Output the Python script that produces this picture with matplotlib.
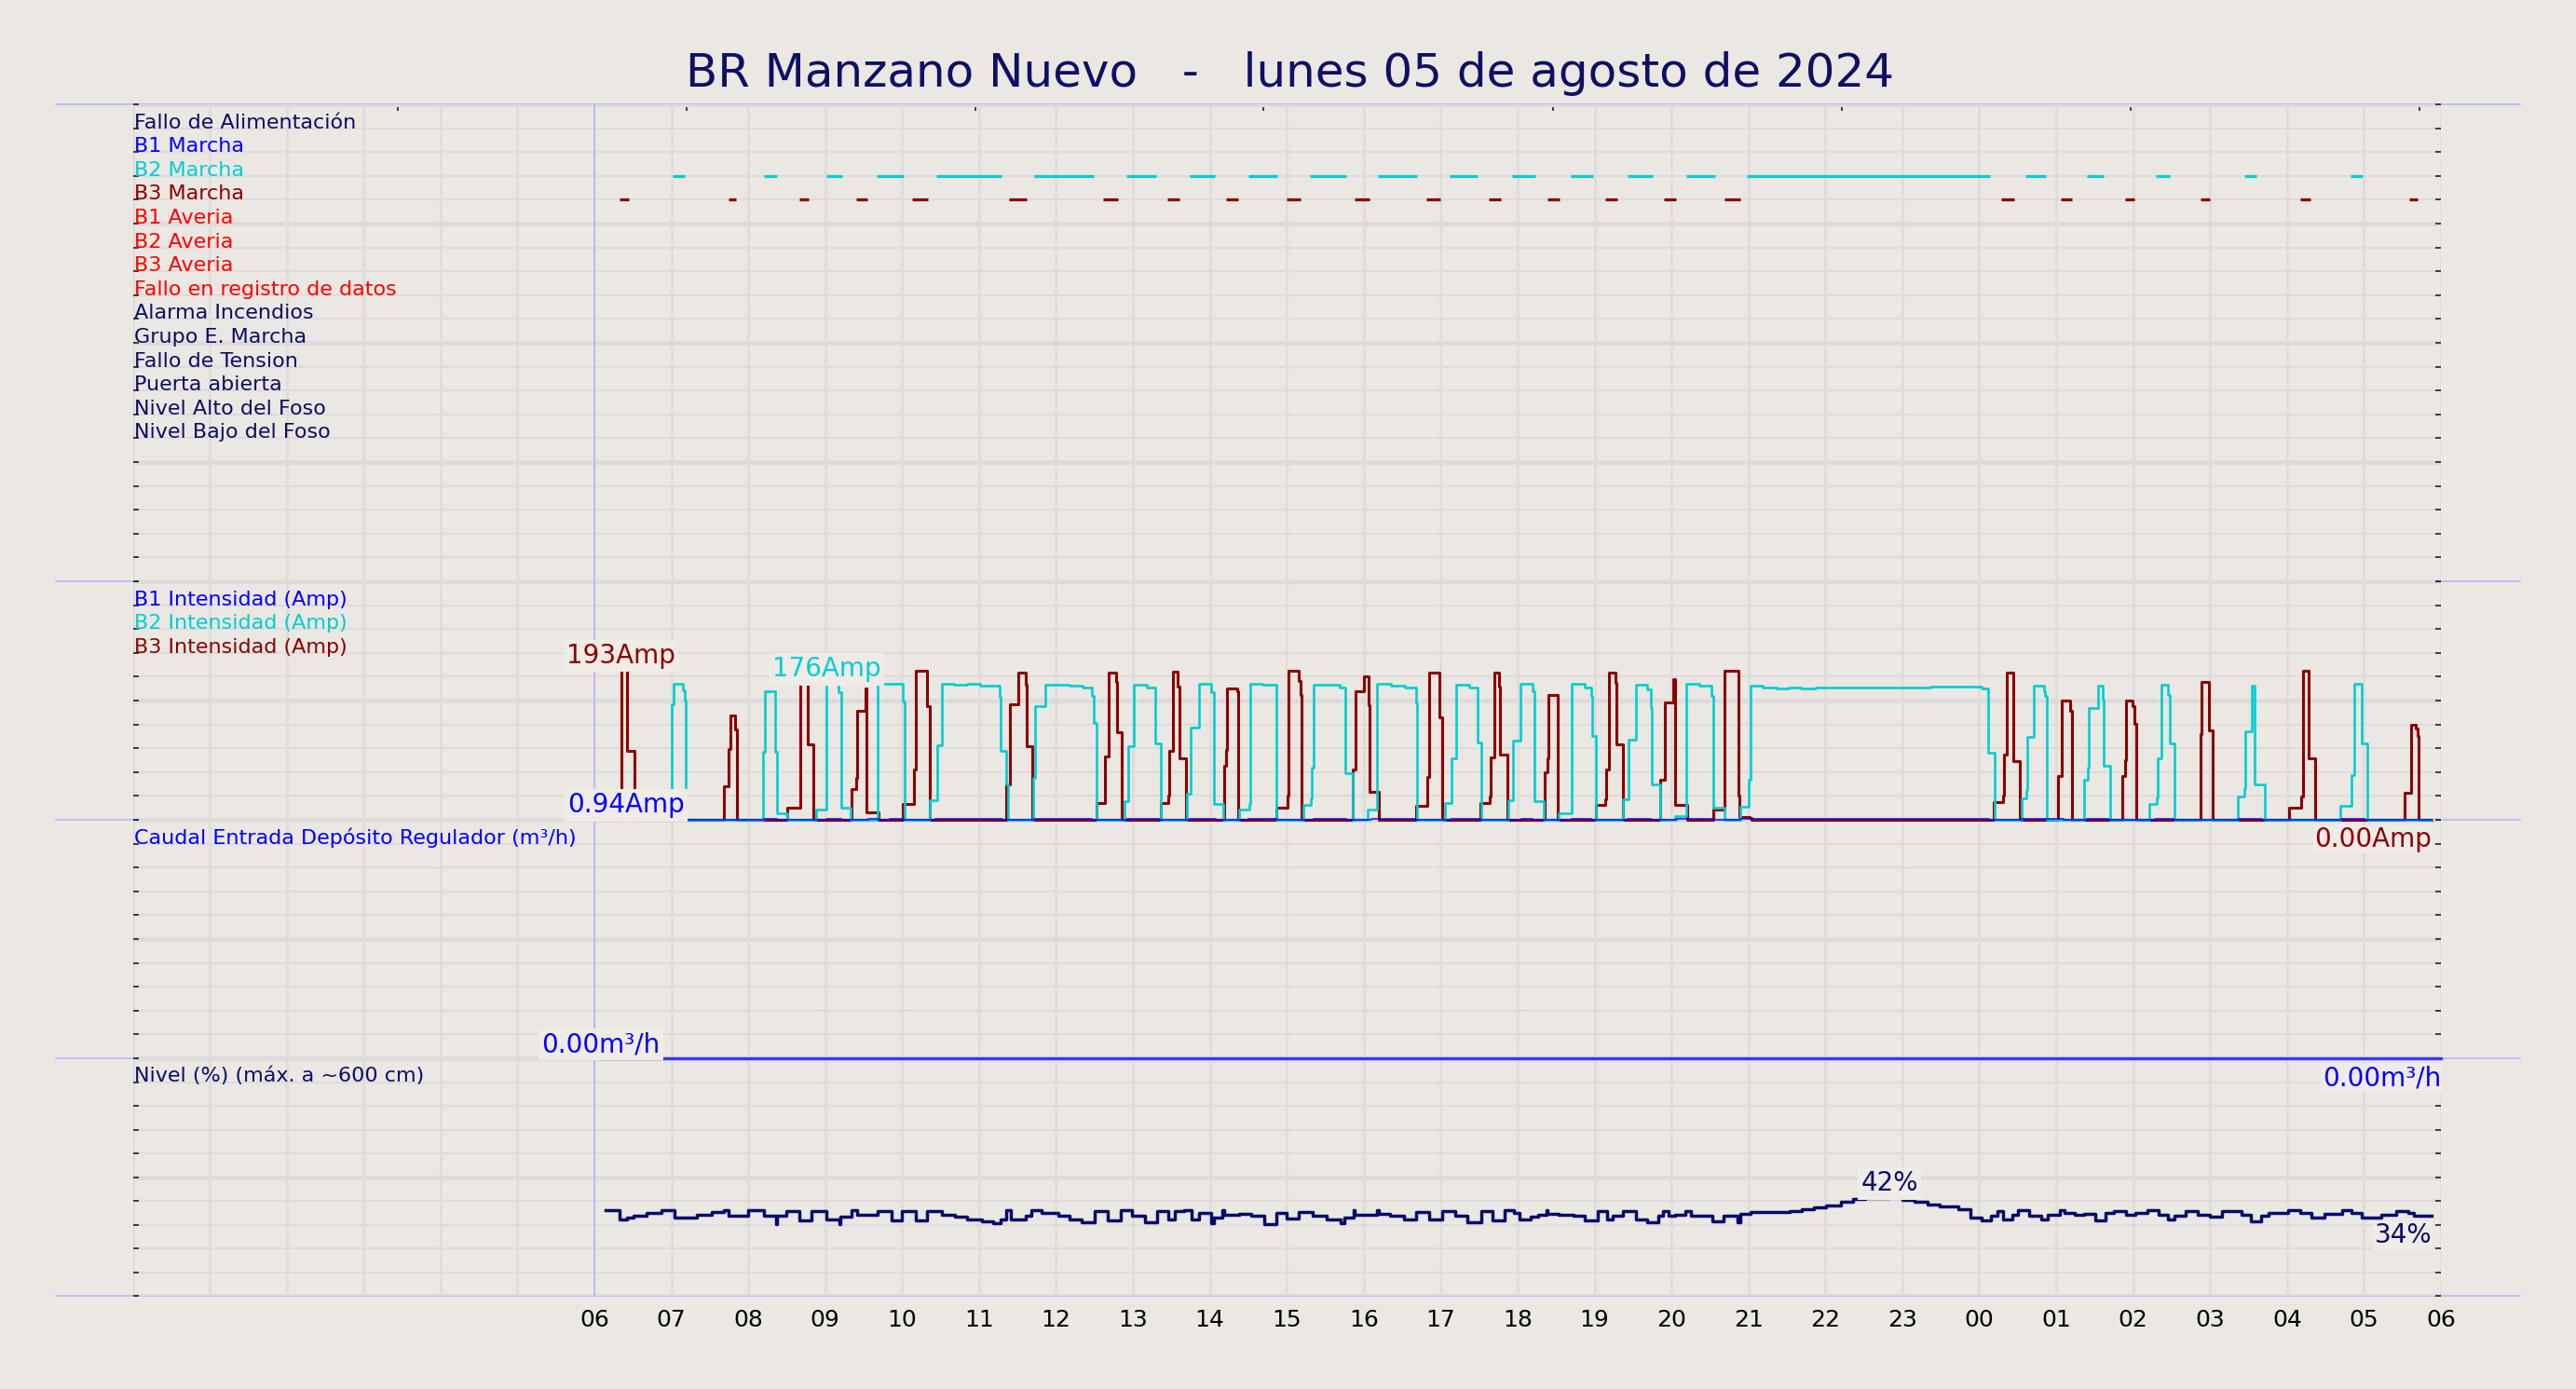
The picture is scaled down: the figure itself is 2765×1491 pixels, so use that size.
import numpy as np
import matplotlib
matplotlib.use("Agg")
import matplotlib.pyplot as plt
from matplotlib.lines import Line2D

# ---------------- data ----------------
title = "BR Manzano Nuevo   -   lunes 05 de agosto de 2024"

signal_labels = ["Fallo de Alimentación", "B1 Marcha", "B2 Marcha", "B3 Marcha",
                 "B1 Averia", "B2 Averia", "B3 Averia", "Fallo en registro de datos",
                 "Alarma Incendios", "Grupo E. Marcha", "Fallo de Tension",
                 "Puerta abierta", "Nivel Alto del Foso", "Nivel Bajo del Foso"]
signal_colors = ["#0d0d66", "#0000ff", "#00ced1", "#8b0000", "#ff0000", "#ff0000",
                 "#ff0000", "#ff0000", "#0d0d66", "#0d0d66", "#0d0d66", "#0d0d66",
                 "#0d0d66", "#0d0d66"]

# B2 / B3 "Marcha" intervals (hours since 00:00 of the day)
b2_on = [7.02, 8.20, 9.01, 9.67, 10.44, 11.72, 12.92, 13.74, 14.50, 15.30, 16.18, 17.12,
         17.93, 18.69, 19.43, 20.19, 20.98, 24.60, 25.40, 26.30, 27.44, 28.82]
b2_off = [7.18, 8.37, 9.22, 10.02, 11.29, 12.49, 13.30, 14.07, 14.88, 15.77, 16.69, 17.48,
          18.23, 18.98, 19.75, 20.57, 24.14, 24.86, 25.62, 26.48, 27.60, 28.98]
b3_on = [6.33, 7.74, 8.67, 9.40, 10.13, 11.39, 12.61, 13.45, 14.21, 15.00, 15.88, 16.81,
         17.63, 18.39, 19.14, 19.90, 20.69, 24.29, 25.06, 25.89, 26.88, 28.17, 29.59]
b3_off = [6.45, 7.84, 8.78, 9.55, 10.34, 11.62, 12.81, 13.60, 14.37, 15.18, 16.07, 16.99,
          17.78, 18.54, 19.29, 20.06, 20.89, 24.46, 25.21, 26.02, 27.00, 28.30, 29.70]

# Currents (step series, value holds until next time)
b3_t = [6.08, 6.347, 6.428, 6.517, 7.679, 7.740, 7.768, 7.825, 7.853, 8.507, 8.681, 8.778, 8.850,
        9.343, 9.399, 9.415, 9.524, 9.536, 9.690, 10.009, 10.150, 10.174, 10.320, 10.356,
        11.353, 11.402, 11.515, 11.604, 11.620, 11.696,
        12.524, 12.633, 12.685, 12.786, 12.798, 12.859, 13.359, 13.456, 13.472, 13.525, 13.586,
        13.602, 13.686, 14.187, 14.215, 14.227, 14.353, 14.365, 14.865, 15.007, 15.027, 15.160,
        15.180, 15.188, 15.862, 15.895, 16.008, 16.065, 16.077, 16.198, 16.682, 16.823, 16.844,
        16.977, 17.025, 17.518, 17.631, 17.647, 17.696, 17.760, 17.772, 17.861,
        18.356, 18.385, 18.405, 18.526, 19.022, 19.143, 19.156, 19.184, 19.277, 19.289, 19.366,
        19.858, 19.911, 19.919, 20.024, 20.044, 20.052, 20.201, 20.544, 20.690, 20.867, 20.879,
        21.021, 21.041,
        24.189, 24.310, 24.322, 24.362, 24.439, 24.532, 25.024, 25.077, 25.186, 25.202,
        25.864, 25.897, 25.913, 25.993, 26.014, 26.038, 26.874, 26.894, 26.983, 27.035,
        28.032, 28.186, 28.206, 28.278, 28.367, 29.530, 29.607, 29.679, 29.692, 29.708, 29.88]
b3_a = [0, 193, 89, 0, 43, 91, 134, 116, 0, 16, 176, 97, 0,
        40, 54, 140, 169, 9, 0, 20, 65, 192, 146, 0,
        46, 149, 190, 174, 95, 0,
        21, 81, 189, 177, 113, 0, 22, 31, 89, 191, 171,
        79, 0, 70, 90, 169, 166, 0, 15, 31, 192, 179,
        161, 0, 65, 165, 185, 148, 36, 0, 18, 55, 189,
        132, 0, 21, 30, 80, 189, 172, 84, 0,
        61, 79, 161, 0, 19, 26, 65, 190, 176, 97, 0,
        51, 80, 151, 181, 127, 19, 0, 13, 192, 31, 4,
        2, 0,
        23, 31, 84, 189, 75, 0, 56, 154, 140, 0,
        56, 77, 153, 146, 123, 0, 110, 177, 115, 0,
        15, 30, 192, 79, 0, 35, 122, 118, 108, 0, 0]

b2_t = [6.08, 7.001, 7.033, 7.155, 7.179, 7.187, 8.188, 8.212, 8.349, 8.370, 8.507,
        8.878, 9.020, 9.173, 9.205, 9.335, 9.678, 10.009, 10.029,
        10.364, 10.457, 10.517, 10.679, 10.848, 11.010, 11.264, 11.281, 11.353, 11.377,
        11.700, 11.733, 11.858, 12.181, 12.342, 12.463, 12.487, 12.524,
        12.887, 12.940, 13.012, 13.182, 13.287, 13.295, 13.359,
        13.707, 13.755, 13.856, 14.018, 14.050, 14.179, 14.381, 14.514, 14.522, 14.684, 14.865,
        15.209, 15.309, 15.321, 15.354, 15.693, 15.754, 15.854, 16.056, 16.169, 16.359, 16.529,
        16.682, 16.694, 17.058, 17.138, 17.195, 17.368, 17.477, 17.530, 17.873,
        17.940, 18.033, 18.195, 18.215, 18.223, 18.344, 18.538, 18.699, 18.869, 18.962, 18.974,
        19.022, 19.366, 19.446, 19.535, 19.689, 19.737, 19.749, 19.850, 20.052, 20.193, 20.363,
        20.524, 20.548, 20.686, 20.900, 21.001, 21.033, 21.182, 21.364, 21.526, 21.687, 21.869,
        23.362, 24.027, 24.120, 24.197, 24.552, 24.613, 24.625, 24.706, 24.843, 24.855, 24.875,
        25.368, 25.408, 25.420, 25.541, 25.602, 25.614, 25.703, 26.207, 26.308, 26.320, 26.373,
        26.458, 26.474, 26.534, 27.366, 27.439, 27.455, 27.540, 27.580, 27.709,
        28.698, 28.840, 28.872, 28.965, 29.041, 29.88]
b2_a = [0, 149, 175, 167, 154, 0, 87, 165, 87, 8, 0,
        13, 176, 164, 15, 0, 175, 152, 0,
        25, 96, 175, 174, 175, 173, 158, 89, 46, 0,
        54, 146, 174, 173, 170, 160, 125, 0,
        24, 95, 174, 170, 158, 98, 0,
        33, 119, 175, 164, 20, 0, 13, 20, 175, 174, 0,
        19, 27, 67, 174, 170, 60, 0, 13, 175, 173, 170,
        150, 0, 21, 79, 174, 170, 99, 0, 25,
        102, 175, 165, 126, 24, 0, 8, 175, 170, 160, 108,
        0, 26, 103, 174, 168, 144, 45, 0, 5, 175, 173,
        160, 16, 0, 17, 51, 173, 170, 169, 170, 169, 170,
        171, 169, 86, 0, 27, 38, 107, 173, 165, 159, 0,
        52, 67, 144, 173, 155, 69, 0, 20, 29, 79, 174,
        161, 98, 0, 30, 41, 114, 173, 45, 0,
        18, 57, 175, 98, 0, 0]

b1_t = [6.08, 6.41, 6.45, 8.204, 8.374, 9.012, 9.205, 9.557, 9.678, 9.839, 10.009,
        10.437, 11.301, 11.717, 12.463, 12.927, 13.343, 13.735, 14.078, 14.502, 14.865,
        15.350, 15.774, 16.097, 16.662, 17.126, 17.510, 18.045, 18.195, 18.699, 18.962,
        19.426, 19.729, 20.072, 20.556, 20.900, 24.128, 24.552, 25.097, 25.400, 25.680,
        26.288, 26.530, 27.378, 27.681, 28.710, 29.013, 29.88]
b1_a = [0, 0.94, 0, 0.8, 0, 0.8, 0, 0.8, 0, 0.8, 0,
        0.8, 0, 0.8, 0, 0.8, 0, 0.8, 0, 0.8, 0,
        0.8, 0, 0.8, 0, 0.8, 0, 0.8, 0, 0.8, 0,
        0.8, 0, 0.8, 0, 0.8, 0, 0.8, 0, 0.8, 0,
        0.8, 0, 0.8, 0, 0.8, 0, 0]

flow_t = [6.08, 30.0]
flow_v = [0.0, 0.0]

level_t = [6.150, 6.328, 6.428, 6.505, 6.675, 6.868, 7.038, 7.332, 7.525, 7.679, 7.741, 8.003,
           8.204, 8.359, 8.375, 8.490, 8.667, 8.822, 9.015, 9.185, 9.200, 9.339, 9.417, 9.687,
           9.857, 9.996, 10.173, 10.320, 10.521, 10.691, 10.845, 11.038, 11.177, 11.285, 11.347,
           11.409, 11.602, 11.679, 11.810, 12.026, 12.173, 12.335, 12.505, 12.675, 12.837,
           12.992, 13.162, 13.316, 13.455, 13.548, 13.664, 13.764, 13.857, 14.011, 14.050,
           14.166, 14.180, 14.374, 14.536, 14.706, 14.860, 14.999, 15.154, 15.339, 15.517,
           15.694, 15.748, 15.864, 15.880, 16.173, 16.190, 16.343, 16.521, 16.675, 16.853,
           17.023, 17.192, 17.347, 17.525, 17.679, 17.834,
           17.952, 18.030, 18.170, 18.264, 18.381, 18.390, 18.537, 18.732, 18.872, 19.044,
           19.161, 19.239, 19.372, 19.535, 19.684, 19.824, 19.887, 19.965, 20.043, 20.175,
           20.253, 20.526, 20.682, 20.854, 20.900, 21.033, 21.306, 21.540, 21.696, 21.852,
           22.008, 22.203, 22.359, 22.515, 22.830, 23.007, 23.163, 23.334, 23.490, 23.724,
           23.880, 24.036, 24.153, 24.231, 24.309, 24.426, 24.504, 24.645, 24.801, 24.894,
           25.050, 25.113, 25.245, 25.362, 25.503, 25.635, 25.752, 25.908, 26.025, 26.181,
           26.337, 26.454, 26.532, 26.688, 26.844, 27.000, 27.156, 27.406, 27.531, 27.664,
           27.765, 28.015, 28.170, 28.311, 28.483, 28.717, 28.834, 28.974, 29.224, 29.419,
           29.575, 29.653, 29.88]
level_v = [37.0, 33.0, 33.6, 34.6, 35.6, 37.0, 33.6, 35.0, 35.9, 37.0, 34.6, 37.0,
           34.6, 31.0, 34.3, 36.3, 32.6, 36.3, 33.0, 31.0, 34.0, 37.0, 35.0, 36.3,
           32.3, 36.3, 32.6, 36.3, 35.0, 34.0, 33.0, 32.0, 31.2, 33.0, 36.7,
           33.0, 34.3, 37.0, 35.6, 34.3, 33.0, 31.6, 36.3, 32.6, 36.7,
           34.3, 31.6, 36.3, 33.0, 36.3, 36.7, 33.0, 35.6, 31.2, 33.6,
           36.7, 35.0, 35.2, 34.3, 31.0, 35.6, 33.2, 35.9, 34.3, 33.0,
           31.2, 33.6, 36.7, 35.0, 36.7, 35.4, 34.3, 33.0, 36.0, 33.0,
           36.3, 34.3, 31.8, 36.3, 32.3, 36.7,
           35.6, 33.0, 34.0, 35.0, 37.0, 35.4, 35.0, 34.3, 32.6, 36.3,
           33.0, 34.3, 36.3, 33.0, 31.6, 34.3, 36.3, 34.6, 35.0, 36.3,
           34.6, 31.9, 34.3, 31.6, 35.2, 35.9, 36.0, 36.6, 37.2, 38.0,
           38.96, 40.3, 41.6, 42.0, 42.3, 41.35, 40.3, 39.4, 38.3, 37.2,
           33.6, 32.3, 34.3, 36.3, 33.0, 35.0, 36.7, 34.6, 33.0, 35.0,
           36.7, 35.6, 35.0, 35.4, 32.3, 35.6, 36.6, 35.0, 35.6, 36.7,
           35.0, 32.7, 34.6, 36.6, 35.0, 33.9, 36.3, 35.0, 31.9, 34.3,
           35.6, 37.0, 35.6, 33.6, 35.2, 37.0, 35.6, 33.6, 35.0, 36.3,
           35.6, 34.3, 34.3]

hour_ticks = list(range(6, 31))
hour_labels = ["06", "07", "08", "09", "10", "11", "12", "13", "14", "15", "16", "17", "18",
               "19", "20", "21", "22", "23", "00", "01", "02", "03", "04", "05", "06"]
top_tick_hours = [3.445, 7.20, 10.95, 14.70, 18.46, 22.21, 25.97, 29.72]

# ---------------- style ----------------
BG = "#ebe7e2"
GRID = "#e0dbdb"
SEP = "#b8b8fa"
NAVY = "#0d0d66"
CYAN = "#00ced1"
DRED = "#8b0000"
BLUE = "#0000ff"
BOXC = "#efebe7"

W, H = 2765, 1491
fig = plt.figure(figsize=(W / 100, H / 100), dpi=100, facecolor=BG)

def fy(py):
    return 1 - py / H

x0 = 142.5 / W
wd = (2620 - 142.5) / W
edges = [112, 624, 880, 1136, 1391]
axes = []
for i in range(4):
    ax = fig.add_axes([x0, fy(edges[i + 1]), wd, fy(edges[i]) - fy(edges[i + 1])])
    ax.set_facecolor("none")
    ax.set_zorder(4 - i)
    for s in ax.spines.values():
        s.set_visible(False)
    ax.set_xlim(0, 30)
    ax.set_axisbelow(True)
    axes.append(ax)
ax1, ax2, ax3, ax4 = axes

ylims = [(0, 20), (0, 307), (0, 10), (0, 102.1)]
nunits = [20, 10, 10, 10]
for ax, (lo, hi), n in zip(axes, ylims, nunits):
    ax.set_ylim(lo, hi)
    minor = np.linspace(lo, hi, n + 1)
    major = minor[::5]
    ax.set_yticks(major)
    ax.set_yticks(minor, minor=True)
    ax.set_xticks(hour_ticks)
    ax.set_xticks(range(0, 31), minor=True)
    ax.grid(True, which="major", axis="y", color=GRID, lw=3.6)
    ax.grid(True, which="minor", axis="y", color=GRID, lw=1.5)
    ax.grid(True, which="both", axis="x", color=GRID, lw=1.8)
    ax.tick_params(axis="y", which="both", left=True, right=True, direction="in",
                   length=4, width=1.2, color="#222222", labelleft=False)
    ax.tick_params(axis="x", which="both", length=0, labelbottom=False)
    ax.axvline(6, color=SEP, lw=1.3, zorder=1.5)

ax4.tick_params(axis="x", which="major", labelbottom=True, labelsize=18, pad=10)
ax4.set_xticklabels(hour_labels)

# top ticks
sec = ax1.secondary_xaxis("top")
sec.set_xticks(top_tick_hours)
sec.tick_params(direction="in", length=5, width=1.2, color="#222222", labeltop=False)
for s in sec.spines.values():
    s.set_visible(False)

# separators
for py in edges:
    fig.add_artist(Line2D([60 / W, 2705 / W], [fy(py), fy(py)], color=SEP, lw=1.2,
                          zorder=0.5))

fig.text(1384 / W, fy(79), title, ha="center", va="center", fontsize=36, color="#0f0f64")

LFS = 16
# panel 1 signal labels and bars
for i, (lab, col) in enumerate(zip(signal_labels, signal_colors)):
    ax1.text(0.02, 19 - i, lab, color=col, fontsize=LFS, ha="left", va="baseline")
ax1.hlines([17] * len(b2_on), b2_on, b2_off, color=CYAN, lw=2.3, zorder=3)
ax1.hlines([16] * len(b3_on), b3_on, b3_off, color=DRED, lw=2.3, zorder=3)

# panel 2 currents
for i, (lab, col) in enumerate([("B1 Intensidad (Amp)", BLUE), ("B2 Intensidad (Amp)", CYAN),
                                ("B3 Intensidad (Amp)", DRED)]):
    ax2.text(0.02, 307 - (i + 1) * 30.7, lab, color=col, fontsize=LFS, ha="left", va="baseline")
ax2.step(b3_t, b3_a, where="post", color=DRED, lw=2.2, zorder=3, clip_on=False)
ax2.step(b2_t, b2_a, where="post", color=CYAN, lw=1.9, zorder=4, clip_on=False)
ax2.step(b1_t, b1_a, where="post", color=BLUE, lw=1.5, zorder=5, alpha=0.7, clip_on=False)

AFS = 20
def max_label(ax, t, v, fmt, col):
    k = int(np.argmax(v))
    ax.annotate(fmt.format(v[k]), (t[k], v[k]), xytext=(0, 1), textcoords="offset pixels",
                ha="center", va="bottom", fontsize=AFS, color=col, zorder=10,
                annotation_clip=False,
                bbox=dict(boxstyle="square,pad=0.12", fc=BOXC, ec="none"))

def last_label(ax, t, v, fmt, col):
    ax.annotate(fmt.format(v[-1]), (t[-1], v[-1]), xytext=(0, -7), textcoords="offset pixels",
                ha="right", va="top", fontsize=AFS, color=col, zorder=10,
                annotation_clip=False,
                bbox=dict(boxstyle="square,pad=0.05", fc=BOXC, ec="none"))

max_label(ax2, b3_t, b3_a, "{:.0f}Amp", DRED)
max_label(ax2, b2_t, b2_a, "{:.0f}Amp", CYAN)
max_label(ax2, b1_t, b1_a, "{:.2f}Amp", BLUE)
last_label(ax2, b3_t, b3_a, "{:.2f}Amp", DRED)

# panel 3 flow
ax3.text(0.02, 9, "Caudal Entrada Depósito Regulador (m³/h)", color=BLUE, fontsize=LFS,
         ha="left", va="baseline")
ax3.step(flow_t, flow_v, where="post", color="#3a3aff", lw=2.4, zorder=3, clip_on=False)
max_label(ax3, flow_t, flow_v, "{:.2f}m³/h", BLUE)
last_label(ax3, flow_t, flow_v, "{:.2f}m³/h", BLUE)

# panel 4 level
ax4.text(0.02, 102.1 - 10.21, "Nivel (%) (máx. a ~600 cm)", color=NAVY, fontsize=LFS,
         ha="left", va="baseline")
ax4.step(level_t, level_v, where="post", color="#0a0a6a", lw=2.5, zorder=3)
max_label(ax4, level_t, level_v, "{:.0f}%", NAVY)
last_label(ax4, level_t, level_v, "{:.0f}%", NAVY)

fig.savefig("out.png", dpi=100, facecolor=BG)
